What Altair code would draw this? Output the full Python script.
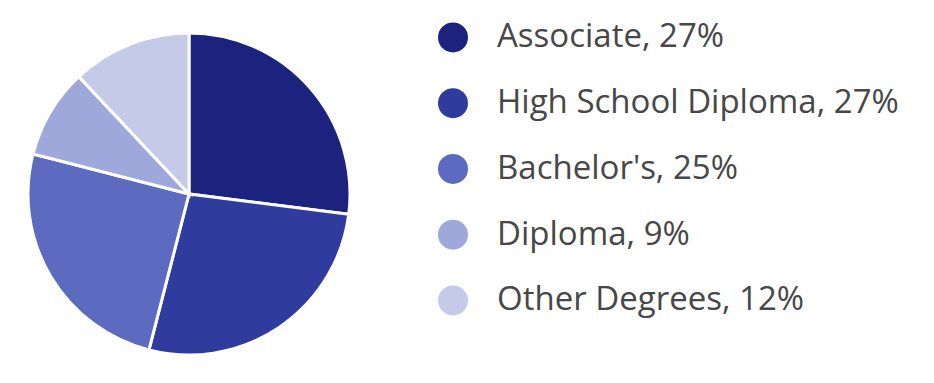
import altair as alt
import pandas as pd

categories = ["Associate", "High School Diploma", "Bachelor's", "Diploma", "Other Degrees"]
shares = [27, 27, 25, 9, 12]
colors = ["#1b237e", "#2f3c9e", "#5c6bc0", "#9fa8da", "#c5cae9"]

df = pd.DataFrame({
    "category": categories,
    "share": shares,
    "idx": list(range(len(categories))),
})
df["label"] = df["category"] + ", " + df["share"].astype(str) + "%"

color_scale = alt.Scale(domain=categories, range=colors)
y_scale = alt.Scale(domain=categories, range=[4.5, 333.25], paddingInner=0, paddingOuter=0)

pie = alt.Chart(df).mark_arc(outerRadius=161, stroke="white", strokeWidth=3).encode(
    theta=alt.Theta("share:Q", stack=True),
    order=alt.Order("idx:Q"),
    color=alt.Color("category:N", scale=color_scale, legend=None),
    x=alt.value(189),
    y=alt.value(194),
)

dots = alt.Chart(df).mark_point(filled=True, shape="circle", size=900, opacity=1).encode(
    x=alt.value(453),
    y=alt.Y("category:N", scale=y_scale, axis=None),
    color=alt.Color("category:N", scale=color_scale, legend=None),
)

labels = alt.Chart(df).mark_text(
    align="left", baseline="middle", font="Open Sans", fontSize=33, color="#474747"
).encode(
    x=alt.value(497),
    y=alt.Y("category:N", scale=y_scale, axis=None),
    text="label:N",
)

chart = alt.layer(pie, dots, labels).properties(
    width=934, height=383, padding=0, autosize=alt.AutoSizeParams(type="none")
).configure_view(stroke=None)

chart.save("out.html", embed_options={"renderer": "svg", "actions": False})
